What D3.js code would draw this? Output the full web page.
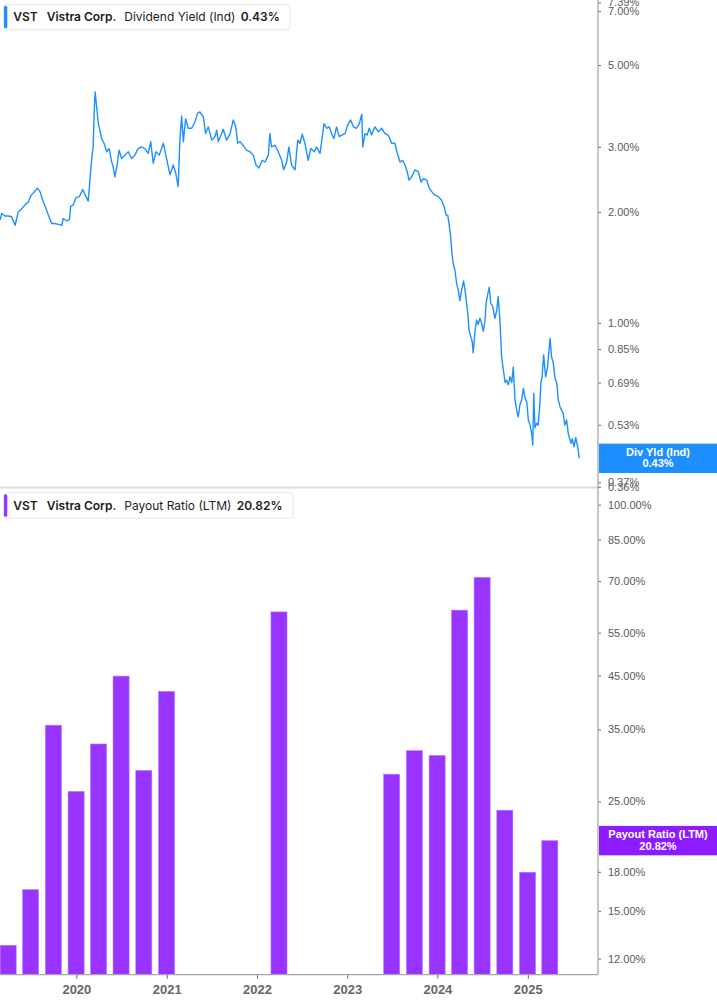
<!DOCTYPE html>
<html>
<head>
<meta charset="utf-8">
<script src="https://cdn.jsdelivr.net/npm/d3@7"></script>
<style>
body { margin: 0; background: #fff; }
svg { display: block; }
</style>
</head>
<body>
<svg id="chart" width="717" height="1005"></svg>
<script>
// ----------------- DATA -----------------
var yieldDates = ['2019-02-26','2019-03-05','2019-03-18','2019-04-01','2019-04-14','2019-04-28','2019-05-11','2019-05-25','2019-06-07','2019-06-21',
    '2019-07-01','2019-07-11','2019-07-27','2019-08-07','2019-08-18','2019-08-28','2019-09-10','2019-09-23','2019-10-07','2019-10-20',
    '2019-11-03','2019-11-09','2019-11-23','2019-12-04','2019-12-09','2019-12-20','2019-12-31','2020-01-13','2020-01-27','2020-02-06',
    '2020-02-18','2020-02-25','2020-03-03','2020-03-09','2020-03-13','2020-03-17','2020-03-23','2020-03-30','2020-04-05','2020-04-12',
    '2020-04-22','2020-05-03','2020-05-13','2020-05-23','2020-05-29','2020-06-05','2020-06-14','2020-06-22','2020-07-02','2020-07-16',
    '2020-07-29','2020-08-12','2020-08-25','2020-09-07','2020-09-21','2020-10-04','2020-10-18','2020-10-28','2020-11-07','2020-11-18',
    '2020-12-01','2020-12-11','2020-12-18','2020-12-31','2021-01-14','2021-01-27','2021-02-06','2021-02-16','2021-02-23','2021-03-02',
    '2021-03-09','2021-03-18','2021-03-29','2021-04-12','2021-04-25','2021-05-06','2021-05-15','2021-05-29','2021-06-07','2021-06-18',
    '2021-07-02','2021-07-15','2021-07-22','2021-07-28','2021-08-11','2021-08-17','2021-08-31','2021-09-14','2021-09-27','2021-10-07',
    '2021-10-15','2021-10-24','2021-11-06','2021-11-20','2021-12-04','2021-12-17','2021-12-28','2022-01-09','2022-01-22','2022-02-02',
    '2022-02-16','2022-02-22','2022-03-01','2022-03-15','2022-03-28','2022-04-11','2022-04-19','2022-05-01','2022-05-10','2022-05-21',
    '2022-06-04','2022-06-15','2022-06-24','2022-07-03','2022-07-14','2022-07-27','2022-08-07','2022-08-21','2022-08-30','2022-09-13',
    '2022-09-24','2022-09-29','2022-10-10','2022-10-20','2022-10-30','2022-11-08','2022-11-19','2022-11-30','2022-12-10','2022-12-23',
    '2023-01-03','2023-01-15','2023-01-26','2023-02-08','2023-02-19','2023-03-01','2023-03-05','2023-03-14','2023-03-23','2023-03-31',
    '2023-04-10','2023-04-23','2023-05-07','2023-05-21','2023-06-03','2023-06-16','2023-06-30','2023-07-13','2023-07-23','2023-08-03',
    '2023-08-13','2023-08-23','2023-09-01','2023-09-08','2023-09-19','2023-10-02','2023-10-16','2023-10-27','2023-11-05','2023-11-19',
    '2023-11-29','2023-12-09','2023-12-22','2024-01-05','2024-01-18','2024-01-28','2024-02-05','2024-02-12','2024-02-18','2024-02-24',
    '2024-02-29','2024-03-05','2024-03-12','2024-03-19','2024-03-26','2024-04-01','2024-04-08','2024-04-16','2024-04-24','2024-05-03',
    '2024-05-08','2024-05-15','2024-05-21','2024-05-25','2024-06-01','2024-06-08','2024-06-14','2024-06-21','2024-06-28','2024-07-05',
    '2024-07-12','2024-07-16','2024-07-23','2024-07-29','2024-08-04','2024-08-12','2024-08-21','2024-08-28','2024-09-03','2024-09-10',
    '2024-09-17','2024-09-24','2024-10-01','2024-10-07','2024-10-14','2024-10-21','2024-10-28','2024-11-03','2024-11-10','2024-11-17',
    '2024-11-23','2024-11-30','2024-12-07','2024-12-14','2024-12-21','2024-12-28','2025-01-03','2025-01-10','2025-01-17','2025-01-21',
    '2025-01-25','2025-01-30','2025-02-06','2025-02-12','2025-02-19','2025-02-23','2025-02-28','2025-03-06','2025-03-14','2025-03-22',
    '2025-04-01','2025-04-07','2025-04-14','2025-04-21','2025-04-28','2025-05-04','2025-05-11','2025-05-18','2025-05-24','2025-05-31',
    '2025-06-07','2025-06-14','2025-06-25','2025-06-30','2025-07-07','2025-07-14','2025-07-19','2025-07-24','2025-07-28'];
var yieldValues = [1.90,1.98,1.95,1.95,1.94,1.84,2.00,2.04,2.09,2.13,
    2.22,2.25,2.32,2.27,2.15,2.07,1.96,1.86,1.86,1.85,
    1.84,1.92,1.89,1.91,2.07,2.09,2.19,2.20,2.30,2.22,
    2.14,2.44,2.78,3.00,3.70,4.23,3.86,3.47,3.33,3.16,
    3.07,2.91,2.97,2.73,2.65,2.49,2.68,2.94,2.79,2.85,
    2.91,2.79,2.85,2.97,3.00,2.97,2.88,3.10,2.71,2.91,
    2.85,2.97,3.07,2.79,2.52,2.68,2.55,2.34,3.13,3.64,
    3.10,3.57,3.37,3.37,3.51,3.71,3.73,3.62,3.26,3.40,
    3.13,3.20,3.33,3.10,3.26,3.35,3.13,3.26,3.55,3.40,
    3.07,3.10,3.03,2.94,2.91,2.85,2.68,2.63,2.76,2.73,
    2.85,3.26,3.00,3.03,2.91,2.76,2.60,2.73,3.00,2.68,
    2.60,3.13,3.07,3.25,3.07,2.76,2.97,2.91,3.00,2.88,
    3.26,3.47,3.37,3.40,3.26,3.16,3.40,3.20,3.23,3.26,
    3.44,3.55,3.40,3.37,3.47,3.68,3.00,3.26,3.23,3.37,
    3.23,3.40,3.30,3.37,3.26,3.23,3.07,3.07,2.88,2.73,
    2.76,2.68,2.57,2.44,2.49,2.60,2.57,2.41,2.46,2.44,
    2.32,2.27,2.22,2.20,2.15,2.07,1.96,1.96,1.84,1.71,
    1.54,1.45,1.39,1.28,1.22,1.15,1.23,1.30,1.20,1.06,
    0.957,0.92,0.89,0.83,0.95,1.02,0.99,1.03,1.00,0.95,
    1.02,1.13,1.20,1.25,1.13,1.11,1.03,1.08,1.18,1.02,
    0.81,0.746,0.69,0.70,0.68,0.715,0.69,0.76,0.62,0.58,
    0.557,0.60,0.62,0.665,0.625,0.61,0.546,0.529,0.50,0.467,
    0.645,0.52,0.535,0.529,0.61,0.69,0.715,0.819,0.715,0.76,
    0.91,0.81,0.78,0.708,0.69,0.62,0.594,0.58,0.57,0.529,
    0.546,0.50,0.472,0.486,0.462,0.49,0.472,0.453,0.43];

var payoutDates = ['2019-03-31','2019-06-30','2019-09-30','2019-12-31','2020-03-31','2020-06-30','2020-09-30','2020-12-31',
    '2022-03-31','2023-06-30','2023-09-30','2023-12-31','2024-03-31','2024-06-30','2024-09-30','2024-12-31','2025-03-31'];
var payoutValues = [12.77,16.56,35.7,26.2,32.7,44.9,28.9,41.8,60.6,28.4,31.7,31.0,61.1,71.2,24.0,17.96,20.82];

var yieldTicks = [7.39, 7, 5, 3, 2, 1, 0.85, 0.69, 0.53, 0.37, 0.36];
var payoutTicks = [100, 85, 70, 55, 45, 35, 25, 18, 15, 12];
var yearTicks = ['2020-01-01', '2021-01-01', '2022-01-01', '2023-01-01', '2024-01-01', '2025-01-01'];

// ----------------- SETUP -----------------
var blue = '#1e8fff';
var purple = '#9933ff';
var purpleLabel = '#8c1cff';
var tickFont = '"Liberation Sans", Arial, sans-serif';
var legendFont = 'Inter, "Noto Sans", sans-serif';

var parse = d3.utcParse('%Y-%m-%d');
var svg = d3.select('#chart');
var plotRight = 598;

var x = d3.scaleUtc()
    .domain([parse('2019-02-26'), parse('2025-10-12')])
    .range([0, plotRight]);

var yTop = d3.scaleLog().domain([0.36, 7.39]).range([486.8, 2.4]);
var yBot = d3.scaleLog().domain([11.13, 107.1]).range([974.7, 490]);

svg.append('clipPath').attr('id', 'clipTop')
    .append('rect').attr('x', 0).attr('y', 0).attr('width', plotRight).attr('height', 487);
svg.append('clipPath').attr('id', 'clipBot')
    .append('rect').attr('x', 0).attr('y', 489).attr('width', plotRight).attr('height', 486);

// ----------------- TOP PANEL -----------------
var yieldData = yieldDates.map(function(d, i) { return {date: parse(d), value: yieldValues[i]}; });

var line = d3.line()
    .x(function(d) { return x(d.date); })
    .y(function(d) { return yTop(d.value); });

svg.append('path')
    .datum(yieldData)
    .attr('clip-path', 'url(#clipTop)')
    .attr('fill', 'none')
    .attr('stroke', blue)
    .attr('stroke-width', 1.4)
    .attr('stroke-linejoin', 'round')
    .attr('d', line);

// ----------------- BOTTOM PANEL -----------------
var payoutData = payoutDates.map(function(d, i) { return {date: parse(d), value: payoutValues[i]}; });

function barWidth(d) {
    return x(d.date) - x(d3.utcDay.offset(d.date, -65));
}

svg.append('g')
    .attr('clip-path', 'url(#clipBot)')
    .selectAll('rect')
    .data(payoutData)
    .enter().append('rect')
    .attr('x', function(d) { return x(d.date) - barWidth(d) / 2; })
    .attr('width', barWidth)
    .attr('y', function(d) { return yBot(d.value); })
    .attr('height', function(d) { return yBot.range()[0] - yBot(d.value); })
    .attr('fill', purple)
    .attr('stroke', '#b27dff')
    .attr('stroke-width', 0.6);

// separator between panels
svg.append('line')
    .attr('x1', 0).attr('x2', plotRight)
    .attr('y1', 487.5).attr('y2', 487.5)
    .attr('stroke', '#dcdcdc').attr('stroke-width', 2);

// ----------------- AXES -----------------
function styleAxis(g) {
    g.select('.domain').remove();
    g.selectAll('.tick line').attr('stroke', '#666');
    g.selectAll('.tick text')
        .attr('fill', '#5a5a5a')
        .style('font-family', tickFont)
        .style('font-size', '11px');
}

var fmt = function(d) { return d.toFixed(2) + '%'; };

svg.append('g')
    .attr('transform', 'translate(' + plotRight + ',0)')
    .call(d3.axisRight(yTop).tickValues(yieldTicks).tickFormat(fmt).tickSize(3).tickPadding(7))
    .call(styleAxis);

svg.append('g')
    .attr('transform', 'translate(' + plotRight + ',0)')
    .call(d3.axisRight(yBot).tickValues(payoutTicks).tickFormat(fmt).tickSize(3).tickPadding(7))
    .call(styleAxis);

var xAxis = svg.append('g')
    .attr('transform', 'translate(0,' + yBot.range()[0] + ')')
    .call(d3.axisBottom(x).tickValues(yearTicks.map(parse)).tickFormat(d3.utcFormat('%Y')).tickSize(4).tickPadding(6))
    .call(styleAxis);
xAxis.selectAll('.tick text')
    .style('font-size', '13px')
    .style('font-weight', 'bold')
    .attr('fill', '#666');

// axis frame lines
svg.append('line')
    .attr('x1', plotRight).attr('x2', plotRight)
    .attr('y1', 0).attr('y2', yBot.range()[0])
    .attr('stroke', '#a6a6a6').attr('stroke-width', 1.3);
svg.append('line')
    .attr('x1', 0).attr('x2', plotRight)
    .attr('y1', yBot.range()[0]).attr('y2', yBot.range()[0])
    .attr('stroke', '#a6a6a6').attr('stroke-width', 1.3);

// ----------------- LAST VALUE LABELS -----------------
function lastLabel(yPos, color, title, value) {
    var g = svg.append('g');
    g.append('rect')
        .attr('x', plotRight + 1).attr('y', yPos - 14.7)
        .attr('width', 717 - plotRight - 1).attr('height', 29.4)
        .attr('fill', color);
    var cx = plotRight + 1 + (717 - plotRight - 1) / 2;
    g.append('text').attr('x', cx).attr('y', yPos - 2.5)
        .attr('text-anchor', 'middle').attr('fill', '#fff')
        .style('font-family', tickFont).style('font-size', '11px').style('font-weight', 'bold')
        .text(title);
    g.append('text').attr('x', cx).attr('y', yPos + 9)
        .attr('text-anchor', 'middle').attr('fill', '#fff')
        .style('font-family', tickFont).style('font-size', '11px').style('font-weight', 'bold')
        .text(value);
}

var lastYield = yieldValues[yieldValues.length - 1];
var lastPayout = payoutValues[payoutValues.length - 1];
lastLabel(yTop(lastYield), blue, 'Div Yld (Ind)', fmt(lastYield));
lastLabel(yBot(lastPayout), purpleLabel, 'Payout Ratio (LTM)', fmt(lastPayout));

// ----------------- LEGENDS -----------------
function legend(top, width, color, metric, value, valueX) {
    var g = svg.append('g').attr('transform', 'translate(3.5,' + top + ')');
    g.append('rect')
        .attr('width', width).attr('height', 25.5).attr('rx', 3)
        .attr('fill', '#fff').attr('stroke', '#e6e6e6');
    g.append('rect')
        .attr('x', 0.5).attr('y', 1.5).attr('width', 3.3).attr('height', 22.5).attr('rx', 1.5)
        .attr('fill', color);
    var parts = [
        {t: 'VST', x: 9.8, w: 600},
        {t: 'Vistra Corp.', x: 43.2, w: 600},
        {t: metric, x: 120.8, w: 400},
        {t: value, x: valueX, w: 600}
    ];
    g.selectAll('text').data(parts).enter().append('text')
        .attr('x', function(d) { return d.x; })
        .attr('y', 17)
        .attr('fill', '#1c1c1c')
        .style('font-family', legendFont)
        .style('font-size', '12px')
        .style('font-weight', function(d) { return d.w; })
        .text(function(d) { return d.t; });
}

legend(4.3, 286.5, blue, 'Dividend Yield (Ind)', '0.43%', 237.2);
legend(492.7, 289.5, purple, 'Payout Ratio (LTM)', '20.82%', 233.2);
</script>
</body>
</html>
